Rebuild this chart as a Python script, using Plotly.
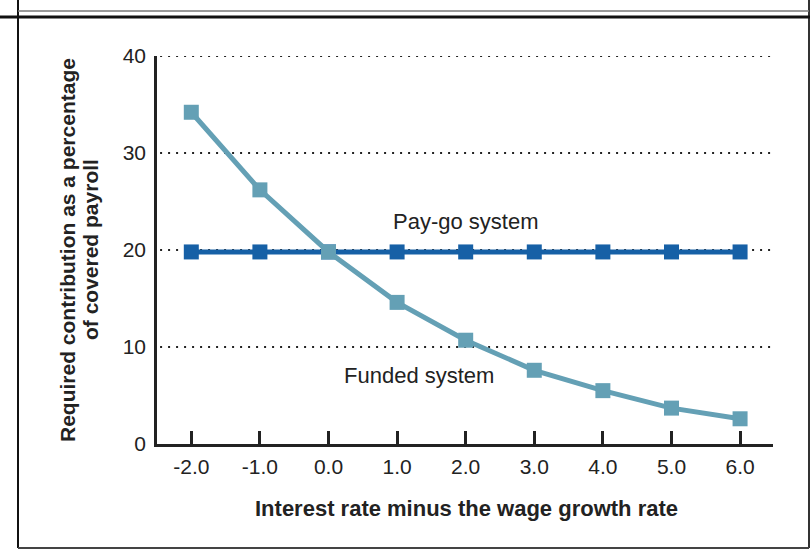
import plotly.graph_objects as go

# Interest rate minus wage growth rate (percentage points)
rate_gap = [-2.0, -1.0, 0.0, 1.0, 2.0, 3.0, 4.0, 5.0, 6.0]
rate_gap_labels = ["-2.0", "-1.0", "0.0", "1.0", "2.0", "3.0", "4.0", "5.0", "6.0"]

# Required contribution, % of covered payroll
paygo_rate = [19.8, 19.8, 19.8, 19.8, 19.8, 19.8, 19.8, 19.8, 19.8]
funded_rate = [34.2, 26.2, 19.8, 14.6, 10.7, 7.6, 5.5, 3.7, 2.6]

y_ticks = [0, 10, 20, 30, 40]
grid_levels = [10, 20, 30, 40]

PAYGO_COLOR = "#1660a6"
FUNDED_COLOR = "#64a0b5"
INK = "#222222"
FONT = "Liberation Sans, Arial, sans-serif"

W, H = 810, 550
L, R, T, B = 157, 37, 56, 106
PW, PH = W - L - R, H - T - B


def px_x(p):
    return (p - L) / PW


def px_y(p):
    return (H - B - p) / PH


fig = go.Figure()

# dotted horizontal guides
for g in grid_levels:
    fig.add_shape(type="line", xref="paper", yref="y",
                  x0=0.005, x1=1, y0=g, y1=g,
                  line=dict(color=INK, width=2, dash="2px,6px"),
                  layer="below")

fig.add_trace(go.Scatter(
    x=rate_gap, y=paygo_rate, mode="lines+markers",
    line=dict(color=PAYGO_COLOR, width=5),
    marker=dict(symbol="square", size=15, color=PAYGO_COLOR),
    showlegend=False, hoverinfo="skip",
))
fig.add_trace(go.Scatter(
    x=rate_gap, y=funded_rate, mode="lines+markers",
    line=dict(color=FUNDED_COLOR, width=5),
    marker=dict(symbol="square", size=15, color=FUNDED_COLOR),
    showlegend=False, hoverinfo="skip",
))

# series labels
fig.add_annotation(x=2.0, y=22.9, xref="x", yref="y", text="Pay-go system",
                   showarrow=False, font=dict(family=FONT, size=22, color=INK),
                   xanchor="center", yanchor="middle")
fig.add_annotation(x=1.32, y=7.05, xref="x", yref="y", text="Funded system",
                   showarrow=False, font=dict(family=FONT, size=22, color=INK),
                   xanchor="center", yanchor="middle")

# axis titles
for txt, cx in [("Required contribution as a percentage", 67),
                ("of covered payroll", 90)]:
    fig.add_annotation(x=px_x(cx), y=0.5, xref="paper", yref="paper",
                       text="<b>" + txt + "</b>",
                       textangle=-90, showarrow=False,
                       font=dict(family=FONT, size=21, color=INK),
                       xanchor="center", yanchor="middle")
fig.add_annotation(x=px_x(466.5), y=px_y(508), xref="paper", yref="paper",
                   text="<b>Interest rate minus the wage growth rate</b>",
                   showarrow=False,
                   font=dict(family=FONT, size=22, color=INK),
                   xanchor="center", yanchor="middle")

# page frame
frame = [
    (18, 0, 18, 548, "#111111", 2),
    (809, 0, 809, 548, "#333333", 2),
    (18, 11, 809, 11, "#777777", 1.5),
    (0, 17, 810, 17, "#111111", 3),
    (18, 548, 809, 548, "#444444", 2),
]
for x0, y0, x1, y1, c, w in frame:
    fig.add_shape(type="line", xref="paper", yref="paper",
                  x0=px_x(x0), y0=px_y(y0), x1=px_x(x1), y1=px_y(y1),
                  line=dict(color=c, width=w), layer="above")

fig.update_xaxes(
    range=[-2.5, 6.48], tickvals=rate_gap, ticktext=rate_gap_labels,
    showline=True, linecolor=INK, linewidth=2.5,
    ticks="inside", ticklen=13, tickwidth=2.5, tickcolor=INK,
    showgrid=False, zeroline=False, ticklabelstandoff=2,
    tickfont=dict(family=FONT, size=21, color=INK),
)
fig.update_yaxes(
    range=[0, 40], tickvals=y_ticks,
    showline=True, linecolor=INK, linewidth=2.5,
    ticks="", showgrid=False, zeroline=False, ticklabelstandoff=4,
    tickfont=dict(family=FONT, size=21, color=INK),
)

fig.update_layout(
    width=W, height=H,
    margin=dict(l=L, r=R, t=T, b=B, autoexpand=False),
    paper_bgcolor="white", plot_bgcolor="white",
    showlegend=False,
)

fig.write_html("out.html")
